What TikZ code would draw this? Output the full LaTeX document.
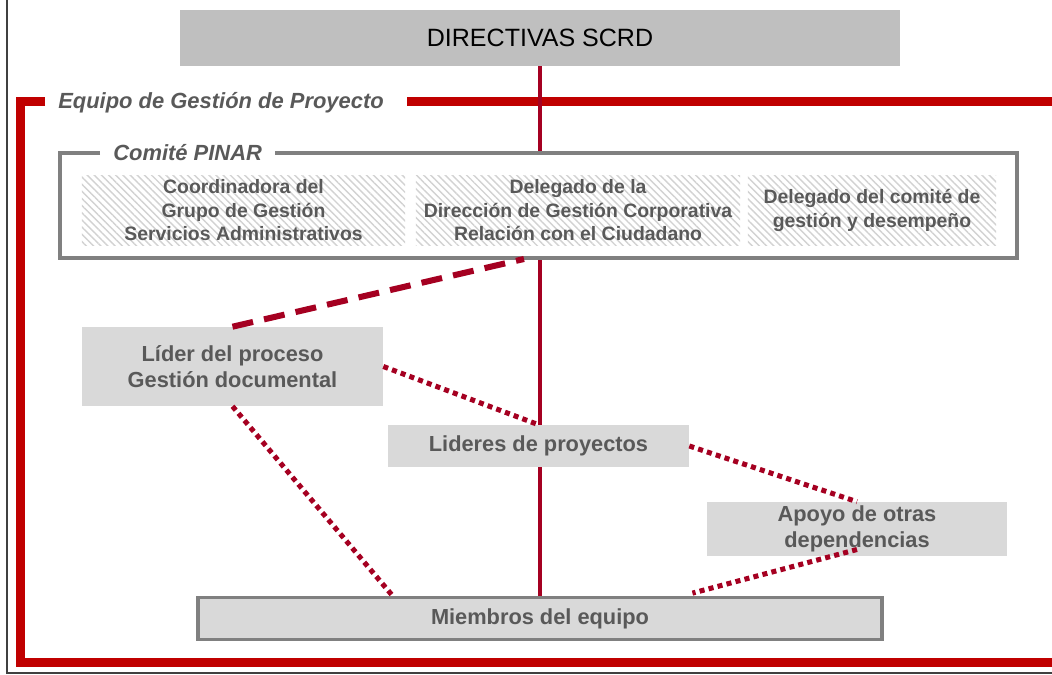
\documentclass[tikz,border=0pt]{standalone}
\usepackage{fontspec}
\setmainfont{Liberation Sans}
\usetikzlibrary{patterns.meta}
\definecolor{rojo}{RGB}{192,0,0}
\definecolor{guinda}{RGB}{165,0,33}
\definecolor{grisoscuro}{RGB}{89,89,89}
\definecolor{grismarco}{RGB}{128,128,128}
\definecolor{grisclaro}{RGB}{217,217,217}
\definecolor{grismedio}{RGB}{191,191,191}
\pgfdeclarelayer{fondo}
\pgfsetlayers{fondo,main}
\tikzset{
  caja/.style={fill=grisclaro, text=grisoscuro, align=center, inner sep=0pt,
    font=\bfseries\fontsize{15.5}{18.5}\selectfont},
  rayada/.style={pattern={Lines[angle=-45,distance=3.6pt,line width=1pt]}, pattern color=gray!35,
    text=grisoscuro, align=center, inner sep=0pt, font=\bfseries\fontsize{13.8}{16.7}\selectfont},
  titulo/.style={text=grisoscuro, anchor=west, inner sep=0pt,
    font=\bfseries\itshape\fontsize{15.6}{18}\selectfont},
  marcorojo/.style={draw=rojo, line width=6.4pt},
  marcogris/.style={draw=grismarco, line width=2.8pt},
  punteada/.style={draw=guinda, line width=3.6pt, dash pattern=on 3.6pt off 3pt},
  rayas/.style={draw=guinda, line width=4.3pt, dash pattern=on 15pt off 8pt}
}
\begin{document}
\begin{tikzpicture}[x=0.025cm, y=-0.025cm]
    \useasboundingbox (0,0) rectangle (1052,675);
    % Marco de la hoja
    \draw[line width=1pt, draw=black!75] (7,0) -- (7,673) -- (1052,673);
    % Equipo de Gestión de Proyecto
    \begin{pgfonlayer}{fondo}
        \draw[marcorojo] (45,102) -| (20,662) -- (1052,662);
        \draw[marcorojo] (407,102) -- (1052,102);
    \end{pgfonlayer}
    \node[titulo] (equipo) at (58,103) {Equipo de Gestión de Proyecto};
    % Directivas
    \node[fill=grismedio, minimum width=17.975cm, minimum height=1.4cm, inner sep=0pt,
        font=\fontsize{17.8}{20}\selectfont] (directivas) at (540,38) {DIRECTIVAS SCRD};
    % Comité PINAR
    \filldraw[marcogris, fill=white] (100,153) -| (60,258) -| (1017,153) -- (275,153);
    \node[titulo] (comite) at (113,153) {Comité PINAR};
    \node[rayada, minimum width=8.075cm, minimum height=1.725cm] (coordinadora) at (243.5,210.5)
        {Coordinadora del\\Grupo de Gestión\\Servicios Administrativos};
    \node[rayada, minimum width=8.1cm, minimum height=1.725cm] (delegado) at (578,210.5)
        {Delegado de la\\Dirección de Gestión Corporativa\\Relación con el Ciudadano};
    \node[rayada, minimum width=6.2cm, minimum height=1.725cm] (desempeno) at (872,210.5)
        {Delegado del comité de\\gestión y desempeño};
    % Cajas del equipo
    \node[caja, minimum width=7.525cm, minimum height=1.975cm] (lider) at (232.5,366.5)
        {Líder del proceso\\Gestión documental};
    \node[caja, minimum width=7.525cm, minimum height=1.05cm] (lideres) at (538.5,446)
        {Lideres de proyectos};
    \node[caja, minimum width=7.5cm, minimum height=1.35cm] (apoyo) at (857,529)
        {Apoyo de otras\\dependencias};
    \node[caja, marcogris, minimum width=17.1cm, minimum height=1.05cm] (miembros) at (540,618.5)
        {Miembros del equipo};
    % Línea de mando
    \begin{pgfonlayer}{fondo}
        \draw[draw=guinda, line width=3pt] (directivas.south) -- (directivas.south |- miembros.north);
    \end{pgfonlayer}
    % Relaciones
    \coordinate (enlace) at (524,259);
    \draw[rayas] (lider.north) -- (enlace);
    \draw[punteada] (lider.east) -- (lideres.north);
    \draw[punteada] (lider.south) -- ([xshift=-3.69cm]miembros.north);
    \draw[punteada] (lideres.east) -- (apoyo.north);
    \draw[punteada] ([yshift=0.17cm]apoyo.south) -- ([xshift=3.81cm, yshift=0.06cm]miembros.north);
\end{tikzpicture}
\end{document}
